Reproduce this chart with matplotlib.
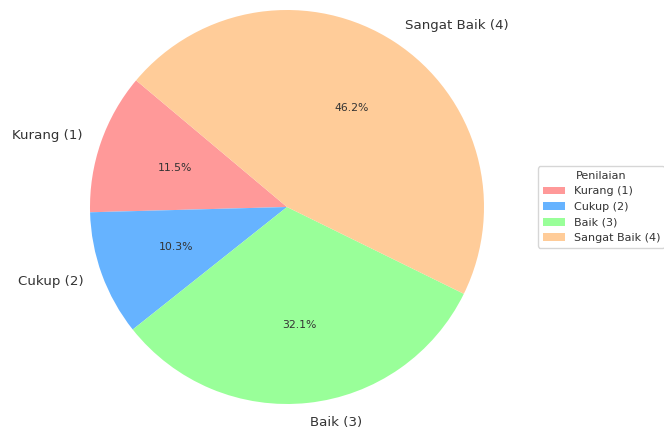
import matplotlib.pyplot as plt

labels = ['Kurang (1)', 'Cukup (2)', 'Baik (3)', 'Sangat Baik (4)']
counts = [9, 8, 25, 36]
colors = ['#ff9999', '#66b3ff', '#99ff99', '#ffcc99']

W, H = 664, 430
fig = plt.figure(figsize=(W / 100, H / 100), dpi=100)

# pie centre and radius in pixels
cx, cy, r = 287, 207, 197
lim = 1.1
half = lim * r
ax = fig.add_axes([(cx - half) / W, (H - cy - half) / H, 2 * half / W, 2 * half / H])

wedges, texts, autotexts = ax.pie(counts, labels=labels, colors=colors, autopct='%1.1f%%',
                                  startangle=140, textprops={'color': '#333333'})
for t in texts:
    t.set_fontsize(9.6)
for t in autotexts:
    t.set_fontsize(7.8)
ax.set_xlim(-lim, lim)
ax.set_ylim(-lim, lim)
ax.set_aspect('equal')

leg = fig.legend(wedges, labels, title='Penilaian', loc='center left',
                 bbox_to_anchor=(532.5 / W, (H - 207) / H), fontsize=8, title_fontsize=8)
for t in leg.get_texts():
    t.set_color('#333333')
leg.get_title().set_color('#333333')

fig.savefig('out.png', dpi=100)
